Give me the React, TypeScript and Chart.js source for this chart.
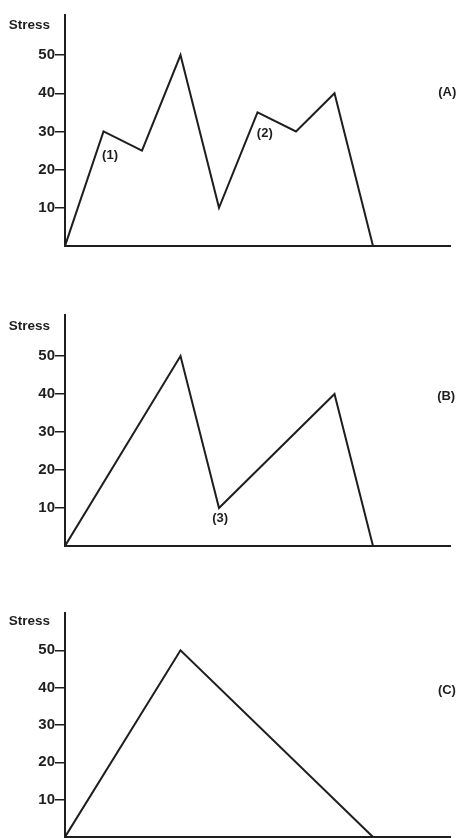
import React, { useEffect, useRef } from "react";
import { Chart, registerables } from "chart.js";

Chart.register(...registerables);

// Time positions (arbitrary units) and stress values for each history
const timeA = [0, 10, 20, 30, 40, 50, 60, 70, 80, 100];
const stressA = [0, 30, 25, 50, 10, 35, 30, 40, 0, 0];

const timeB = [0, 30, 40, 70, 80, 100];
const stressB = [0, 50, 10, 40, 0, 0];

const timeC = [0, 30, 80, 100];
const stressC = [0, 50, 0, 0];

const yTicks = [10, 20, 30, 40, 50];
const yTitle = "Stress";

// Annotation texts and their data-space anchors
const notesA = [
  { text: "(1)", x: 11.7, y: 23.8 },
  { text: "(2)", x: 51.9, y: 29.6 },
  { text: "(A)", x: 99.3, y: 40.2 },
];
const notesB = [
  { text: "(3)", x: 40.3, y: 7.3 },
  { text: "(B)", x: 99.0, y: 39.5 },
];
const notesC = [{ text: "(C)", x: 99.2, y: 39.2 }];

const INK = "#1e1e1e";
const FONT = "'Liberation Sans', Arial, sans-serif";

type Note = { text: string; x: number; y: number };

function Panel(props: {
  xs: number[];
  ys: number[];
  notes: Note[];
  top: number;
  height: number;
  padTop: number;
  padBottom: number;
  yMax: number;
}) {
  const ref = useRef<HTMLCanvasElement | null>(null);
  useEffect(() => {
    if (!ref.current) return;
    const notesPlugin = {
      id: "notes",
      afterDraw(chart: any) {
        const ctx = chart.ctx;
        const xs = chart.scales.x;
        const ys = chart.scales.y;
        ctx.save();
        ctx.fillStyle = INK;
        ctx.font = `bold 13px ${FONT}`;
        ctx.textBaseline = "middle";
        ctx.textAlign = "center";
        props.notes.forEach((n) => {
          ctx.fillText(n.text, xs.getPixelForValue(n.x), ys.getPixelForValue(n.y));
        });
        ctx.textAlign = "right";
        ctx.font = `bold 13.5px ${FONT}`;
        ctx.fillText(yTitle, chart.chartArea.left - 15, ys.getPixelForValue(57.8));
        ctx.restore();
      },
    };
    const chart = new Chart(ref.current, {
      type: "line",
      data: {
        datasets: [
          {
            data: props.xs.map((x, i) => ({ x, y: props.ys[i] })),
            borderColor: INK,
            borderWidth: 2,
            pointRadius: 0,
            tension: 0,
            fill: false,
          },
        ],
      },
      options: {
        animation: false,
        responsive: false,
        layout: { padding: { top: props.padTop, bottom: props.padBottom, left: 0, right: 7 } },
        plugins: { legend: { display: false }, tooltip: { enabled: false } },
        scales: {
          x: {
            type: "linear",
            min: 0,
            max: 100,
            ticks: { display: false },
            grid: { display: false },
            border: { display: true, color: INK, width: 2 },
          },
          y: {
            type: "linear",
            min: 0,
            max: props.yMax,
            afterBuildTicks: (s: any) => {
              s.ticks = yTicks.map((v) => ({ value: v }));
            },
            afterFit: (s: any) => {
              s.width = 65;
            },
            ticks: {
              color: INK,
              font: { family: FONT, size: 15, weight: "bold" },
              padding: 0,
            },
            grid: {
              display: true,
              drawOnChartArea: false,
              drawTicks: true,
              tickLength: 10,
              color: INK,
              lineWidth: 1.5,
            },
            border: { display: true, color: INK, width: 2 },
          },
        },
      },
      plugins: [notesPlugin],
    } as any);
    return () => chart.destroy();
  }, []);
  return (
    <canvas
      ref={ref}
      width={457}
      height={props.height}
      style={{ position: "absolute", left: 0, top: props.top, width: 457, height: props.height }}
    />
  );
}

export default function App() {
  return (
    <div
      style={{
        position: "absolute",
        left: 0,
        top: 0,
        width: 457,
        height: 838,
        overflow: "hidden",
        background: "#fff",
      }}
    >
      <Panel xs={timeA} ys={stressA} notes={notesA} top={0} height={270} padTop={15} padBottom={16} yMax={60.5} />
      <Panel xs={timeB} ys={stressB} notes={notesB} top={290} height={270} padTop={25} padBottom={6} yMax={60.8} />
      <Panel xs={timeC} ys={stressC} notes={notesC} top={590} height={280} padTop={23} padBottom={25} yMax={60.0} />
    </div>
  );
}
